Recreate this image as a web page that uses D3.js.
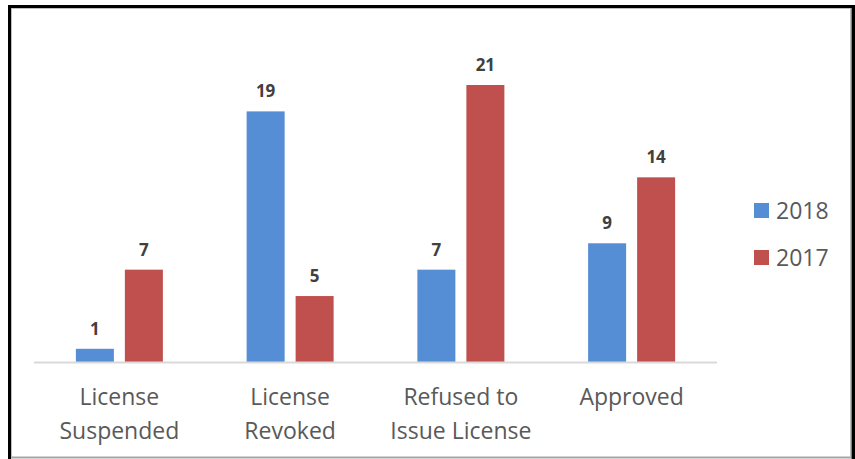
<!DOCTYPE html>
<html>
<head>
<meta charset="utf-8">
<script src="https://cdn.jsdelivr.net/npm/d3@7"></script>
<style>
  body { margin: 0; background: #fff; }
  text { font-family: "Open Sans", "Noto Sans", sans-serif; }
</style>
</head>
<body>
<div id="chart"></div>
<script>
// data
let categories = [["License", "Suspended"], ["License", "Revoked"], ["Refused to", "Issue License"], ["Approved"]];
let years = ["2018", "2017"];
let values2018 = [1, 19, 7, 9];
let values2017 = [7, 5, 21, 14];
let colors = ["#558ED5", "#C0504D"];

var width = 855,
    height = 459;

var svg = d3.select('#chart').append('svg')
    .attr('width', width)
    .attr('height', height);

// frame
svg.append("line").attr("x1", 11).attr("x2", 851).attr("y1", 457.5).attr("y2", 457.5)
    .attr("stroke", "#a6a6a6").attr("stroke-width", 2);
svg.append("line").attr("x1", 11.5).attr("x2", 11.5).attr("y1", 8).attr("y2", 457)
    .attr("stroke", "#bfbfbf").attr("stroke-width", 1);
svg.append("line").attr("x1", 850.5).attr("x2", 850.5).attr("y1", 8).attr("y2", 457)
    .attr("stroke", "#bfbfbf").attr("stroke-width", 1);
svg.append("line").attr("x1", 11).attr("x2", 851).attr("y1", 8.5).attr("y2", 8.5)
    .attr("stroke", "#bfbfbf").attr("stroke-width", 1);
svg.append("path")
    .attr("d", "M9.5,459 V6.5 H853 V459")
    .attr("fill", "none").attr("stroke", "#000").attr("stroke-width", 3);
svg.append("line").attr("x1", 853.5).attr("x2", 853.5).attr("y1", 5).attr("y2", 459)
    .attr("stroke", "#000").attr("stroke-width", 3);

// scales
let x0 = d3.scaleBand().domain(d3.range(categories.length)).range([34, 717]);
let x1 = d3.scaleBand().domain(years)
    .range([x0.bandwidth() / 2 - 43.5, x0.bandwidth() / 2 + 43.5])
    .paddingInner(0.2245);
let y = d3.scaleLinear().domain([0, 21]).range([362, 85]);

let rows = categories.map((c, i) => ({i, vals: [values2018[i], values2017[i]]}));

let groups = svg.selectAll(".grp").data(rows).enter().append("g")
    .attr("class", "grp")
    .attr("transform", d => "translate(" + x0(d.i) + ",0)");

let bars = groups.selectAll(".bar").data(d => d.vals.map((v, k) => ({v, k}))).enter();
bars.append("rect")
    .attr("class", "bar")
    .attr("x", d => x1(years[d.k]))
    .attr("y", d => y(d.v))
    .attr("width", x1.bandwidth())
    .attr("height", d => y(0) - y(d.v))
    .attr("fill", d => colors[d.k]);
bars.append("text")
    .attr("x", d => x1(years[d.k]) + x1.bandwidth() / 2)
    .attr("y", d => y(d.v) - 14)
    .attr("text-anchor", "middle")
    .attr("font-size", 17)
    .attr("font-weight", "bold")
    .attr("fill", "#404040")
    .text(d => d.v);

// baseline
svg.append("line")
    .attr("x1", 34).attr("x2", 717)
    .attr("y1", y(0) + 0.5).attr("y2", y(0) + 0.5)
    .attr("stroke", "#d9d9d9").attr("stroke-width", 2);

// category labels
groups.each(function (d) {
    let t = d3.select(this).append("text")
        .attr("text-anchor", "middle")
        .attr("font-size", 23)
        .attr("fill", "#595959");
    categories[d.i].forEach((line, li) => {
        t.append("tspan")
            .attr("x", x0.bandwidth() / 2)
            .attr("y", 405 + li * 34)
            .text(line);
    });
});

// legend
let legend = svg.selectAll(".legend").data(years).enter().append("g")
    .attr("class", "legend")
    .attr("transform", (d, i) => "translate(754," + (203 + i * 47) + ")");
legend.append("rect")
    .attr("width", 15).attr("height", 15)
    .attr("fill", (d, i) => colors[i]);
legend.append("text")
    .attr("x", 22).attr("y", 16)
    .attr("font-size", 23)
    .attr("fill", "#595959")
    .text(d => d);
</script>
</body>
</html>
